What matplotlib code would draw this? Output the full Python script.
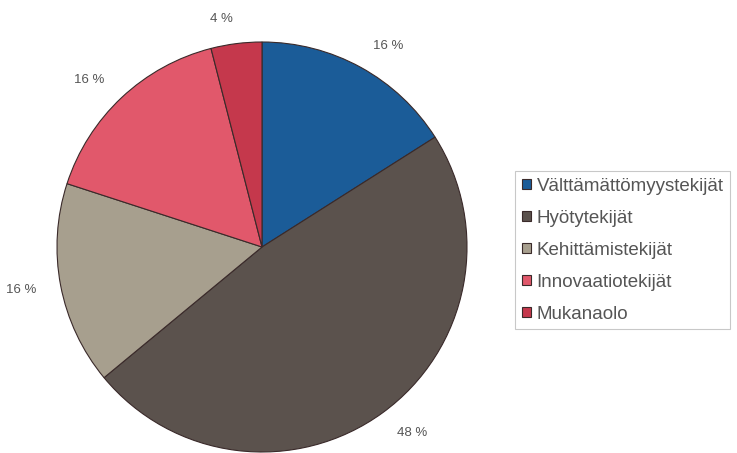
import matplotlib
matplotlib.use('Agg')
import matplotlib.pyplot as plt

plt.rcParams['font.family'] = ['Liberation Sans', 'DejaVu Sans']

labels = ['Välttämättömyystekijät', 'Hyötytekijät', 'Kehittämistekijät',
          'Innovaatiotekijät', 'Mukanaolo']
values = [16, 48, 16, 16, 4]
colors = ['#1b5c98', '#5b524d', '#a79f8e', '#e1586b', '#c5384c']

fig = plt.figure(figsize=(7.37, 4.53), dpi=100)
# pie centre ~ (262, 247) px, radius ~ 205 px
r = 205
ax = fig.add_axes([(262 - r) / 737, (453 - 247 - r) / 453, 2 * r / 737, 2 * r / 453])

wedges, texts = ax.pie(values, colors=colors, startangle=90, counterclock=False,
                       labels=[f'{v} %' for v in values], labeldistance=1.12,
                       wedgeprops=dict(edgecolor='#3a2a2a', linewidth=0.8),
                       textprops=dict(fontsize=9.5, color='#555555'))
ax.set_xlim(-1, 1)
ax.set_ylim(-1, 1)
ax.set_aspect('equal')

leg = fig.legend(wedges, labels, loc='upper left', bbox_to_anchor=(515 / 737, 1 - 171 / 453),
                 frameon=True, fancybox=False, fontsize=13.5, handlelength=0.5,
                 handleheight=0.5, labelspacing=0.8, borderpad=0.35, handletextpad=0.3,
                 borderaxespad=0)
leg.get_frame().set_edgecolor('#bbbbbb')
leg.get_frame().set_linewidth(0.8)
for t in leg.get_texts():
    t.set_color('#555555')

fig.savefig('out.png', dpi=100)
